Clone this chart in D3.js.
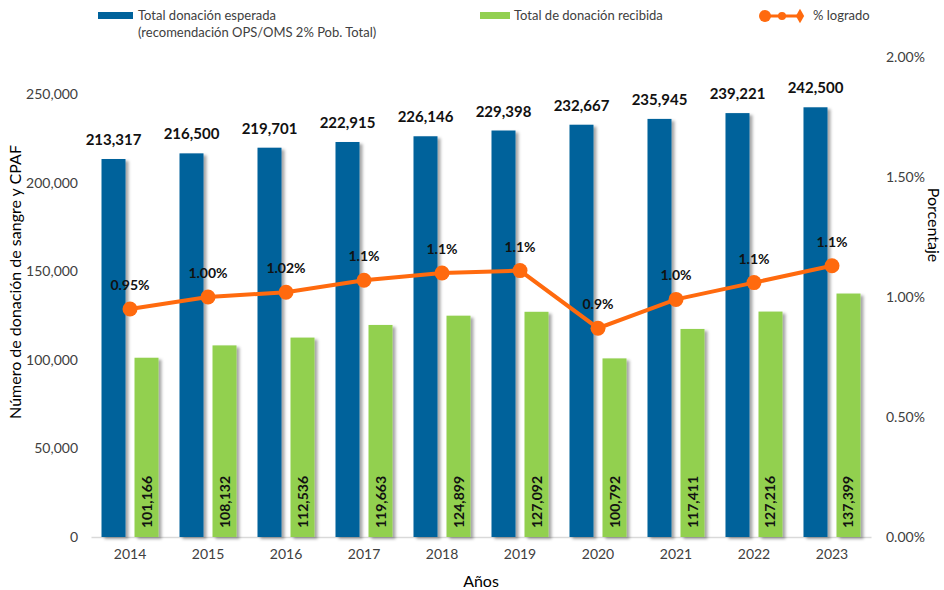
<!DOCTYPE html>
<meta charset="utf-8">
<script src="https://d3js.org/d3.v7.min.js"></script>
<style>
  body { margin: 0; background: #fff; }
  text { font-family: Lato, "Open Sans", sans-serif; }
</style>
<div id="chart"></div>
<script>

// data
var years = ["2014", "2015", "2016", "2017", "2018", "2019", "2020", "2021", "2022", "2023"];
var esperada = [213317, 216500, 219701, 222915, 226146, 229398, 232667, 235945, 239221, 242500];
var recibida = [101166, 108132, 112536, 119663, 124899, 127092, 100792, 117411, 127216, 137399];
var logrado = [0.95, 1.00, 1.02, 1.07, 1.10, 1.11, 0.87, 0.99, 1.06, 1.13];
var logradoLbl = ["0.95%", "1.00%", "1.02%", "1.1%", "1.1%", "1.1%", "0.9%", "1.0%", "1.1%", "1.1%"];
var leftTicks = [0, 50000, 100000, 150000, 200000, 250000];
var rightTicks = [0, 0.5, 1.0, 1.5, 2.0];

var W = 944, H = 590;
var blue = "#00629B", green = "#92D050", orange = "#FF6A0E";

var svg = d3.select("#chart").append("svg")
    .attr("width", W).attr("height", H);

// bar shadow
var f = svg.append("defs").append("filter").attr("id", "shadow")
    .attr("x", "-20%").attr("y", "-5%").attr("width", "160%").attr("height", "110%");
f.append("feDropShadow").attr("dx", 3).attr("dy", 2).attr("stdDeviation", 1.5)
    .attr("flood-color", "#000").attr("flood-opacity", 0.35);

// scales
var x = d3.scaleBand().domain(years).range([91, 871])
    .paddingInner(0.269).paddingOuter(0.1346);
var xs = d3.scaleBand().domain(["esp", "rec"]).range([0, x.bandwidth()]).paddingInner(0.2727);
var y = d3.scaleLinear().domain([0, 250000]).range([537, 94]);
var y2 = d3.scaleLinear().domain([0, 2]).range([537, 57]);

// left axis
svg.append("g")
    .attr("transform", "translate(80,0)")
    .call(d3.axisLeft(y).tickValues(leftTicks).tickSize(0).tickPadding(2).tickFormat(d3.format(",")))
    .call(g => g.select(".domain").remove())
    .selectAll("text").style("font-size", "14px").attr("fill", "#404040")
    .style("font-family", "Lato, sans-serif");

// right axis
svg.append("g")
    .attr("transform", "translate(884,0)")
    .call(d3.axisRight(y2).tickValues(rightTicks).tickSize(0).tickPadding(2).tickFormat(d => d.toFixed(2) + "%"))
    .call(g => g.select(".domain").remove())
    .selectAll("text").style("font-size", "14px").attr("fill", "#404040")
    .style("font-family", "Lato, sans-serif");

// bottom axis
svg.append("g")
    .attr("transform", "translate(0,537)")
    .call(d3.axisBottom(x).tickSize(0).tickPadding(12))
    .call(g => g.select(".domain").attr("stroke", "#d9d9d9").attr("stroke-width", 1.5))
    .selectAll("text").style("font-size", "14px").attr("fill", "#404040")
    .style("font-family", "Lato, sans-serif");

// bars
var gBars = svg.append("g");
gBars.selectAll(".esp")
    .data(esperada)
    .join("rect")
    .attr("class", "esp")
    .attr("x", (d, i) => x(years[i]) + xs("esp"))
    .attr("y", d => y(d))
    .attr("width", xs.bandwidth())
    .attr("height", d => y(0) - y(d))
    .attr("fill", blue)
    .attr("filter", "url(#shadow)");

gBars.selectAll(".rec")
    .data(recibida)
    .join("rect")
    .attr("class", "rec")
    .attr("x", (d, i) => x(years[i]) + xs("rec"))
    .attr("y", d => y(d))
    .attr("width", xs.bandwidth())
    .attr("height", d => y(0) - y(d))
    .attr("fill", green)
    .attr("filter", "url(#shadow)");

// bar labels
svg.append("g").selectAll("text")
    .data(esperada)
    .join("text")
    .attr("x", (d, i) => x(years[i]) + xs("esp") + xs.bandwidth() / 2)
    .attr("y", d => y(d) - 14)
    .attr("text-anchor", "middle")
    .style("font-size", "15px").style("font-weight", "bold")
    .attr("fill", "#111")
    .text(d => d3.format(",")(d));

svg.append("g").selectAll("text")
    .data(recibida)
    .join("text")
    .attr("transform", (d, i) => "translate(" + (x(years[i]) + xs("rec") + xs.bandwidth() / 2 + 5) + "," + (y(0) - 9) + ") rotate(-90)")
    .attr("text-anchor", "start")
    .style("font-size", "14px").style("font-weight", "bold")
    .attr("fill", "#111")
    .text(d => d3.format(",")(d));

// % logrado line
var line = d3.line()
    .x((d, i) => x(years[i]) + x.bandwidth() / 2)
    .y(d => y2(d));

svg.append("path")
    .datum(logrado)
    .attr("d", line)
    .attr("fill", "none")
    .attr("stroke", orange)
    .attr("stroke-width", 4);

svg.append("g").selectAll("circle")
    .data(logrado)
    .join("circle")
    .attr("cx", (d, i) => x(years[i]) + x.bandwidth() / 2)
    .attr("cy", d => y2(d))
    .attr("r", 7.5)
    .attr("fill", orange);

svg.append("g").selectAll("text")
    .data(logrado)
    .join("text")
    .attr("x", (d, i) => x(years[i]) + x.bandwidth() / 2)
    .attr("y", d => y2(d) - 19)
    .attr("text-anchor", "middle")
    .style("font-size", "14px").style("font-weight", "bold")
    .attr("fill", "#111")
    .text((d, i) => logradoLbl[i]);

// axis titles
svg.append("text")
    .attr("transform", "translate(21,282) rotate(-90)")
    .attr("text-anchor", "middle")
    .style("font-size", "16px").attr("fill", "#000")
    .text("Número de donación de sangre y CPAF");

svg.append("text")
    .attr("transform", "translate(928,225) rotate(90)")
    .attr("text-anchor", "middle")
    .style("font-size", "16px").attr("fill", "#000")
    .text("Porcentaje");

svg.append("text")
    .attr("x", 481).attr("y", 587)
    .attr("text-anchor", "middle")
    .style("font-size", "16px").attr("fill", "#000")
    .text("Años");

// legend
var leg = svg.append("g");
leg.append("rect").attr("x", 98).attr("y", 12).attr("width", 35).attr("height", 7).attr("fill", blue);
leg.append("text").attr("x", 138).attr("y", 20).style("font-size", "13px").attr("fill", "#404040")
    .text("Total donación esperada");
leg.append("text").attr("x", 138).attr("y", 37).style("font-size", "13px").attr("fill", "#404040")
    .text("(recomendación OPS/OMS 2% Pob. Total)");

leg.append("rect").attr("x", 480).attr("y", 12).attr("width", 30).attr("height", 7).attr("fill", green);
leg.append("text").attr("x", 514).attr("y", 20).style("font-size", "13px").attr("fill", "#404040")
    .text("Total de donación recibida");

leg.append("line").attr("x1", 765).attr("x2", 800).attr("y1", 16).attr("y2", 16)
    .attr("stroke", orange).attr("stroke-width", 3);
leg.append("circle").attr("cx", 765).attr("cy", 16).attr("r", 6).attr("fill", orange);
leg.append("circle").attr("cx", 782).attr("cy", 16).attr("r", 4).attr("fill", orange);
leg.append("path").attr("d", d3.symbol(d3.symbolDiamond, 60)).attr("transform", "translate(800,16)").attr("fill", orange);
leg.append("text").attr("x", 813).attr("y", 20).style("font-size", "13px").attr("fill", "#404040")
    .text("% logrado");

</script>
